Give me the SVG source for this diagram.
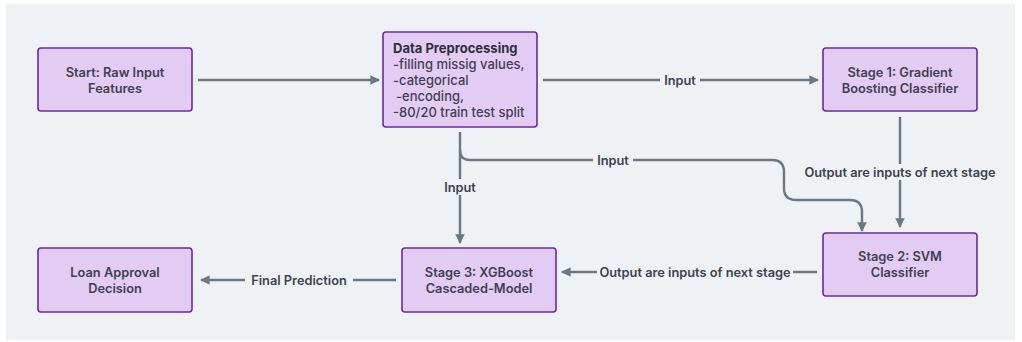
<svg xmlns="http://www.w3.org/2000/svg" width="1022" height="342" viewBox="0 0 1022 342">
<defs>
<marker id="ah" viewBox="0 0 10 10" refX="9" refY="5" markerWidth="4" markerHeight="4" orient="auto" markerUnits="strokeWidth">
<path d="M0,0 L10,5 L0,10 z" fill="#6b7883"/>
</marker>
<style>
.node rect{fill:#e4cbf3;stroke:#6c2b94;stroke-width:1.6}
.nt{font-family:Inter,"Noto Sans","Liberation Sans",sans-serif;font-size:12.8px;font-weight:600;fill:#3d4150;text-anchor:middle;dominant-baseline:central}
.dt{font-family:Inter,"Noto Sans","Liberation Sans",sans-serif;font-size:13px;font-weight:500;fill:#3d4150;dominant-baseline:central}
.dh{font-weight:700;fill:#2c2f3a}
.edge{fill:none;stroke:#6b7883;stroke-width:2.4;marker-end:url(#ah)}
.lbl{font-family:Inter,"Noto Sans","Liberation Sans",sans-serif;font-size:12.8px;font-weight:600;fill:#3b4350;text-anchor:middle;dominant-baseline:central}
.lb{fill:#eff2f5}
</style>
</defs>
<rect x="0" y="0" width="1022" height="342" fill="#ffffff"/>
<rect x="6" y="4" width="1009" height="336" fill="#eff2f5"/>
<g id="connectors">
<path class="edge" d="M198,80 H379"/>
<path class="edge" d="M543,80 H818"/>
<path class="edge" d="M460,132 V243"/>
<path class="edge" d="M460,150 Q460,160 470,160 H772 Q784,160 784,172 V188 Q784,200 796,200 H850 Q862,200 862,212 V231"/>
<path class="edge" d="M900,117 V227"/>
<path class="edge" d="M817,272 H562"/>
<path class="edge" d="M396,280 H201"/>
<rect class="lb" x="660" y="72" width="40" height="16"/>
<text class="lbl" x="680" y="80">Input</text>
<rect class="lb" x="593" y="152" width="40" height="16"/>
<text class="lbl" x="613" y="160">Input</text>
<rect class="lb" x="440" y="179" width="40" height="16"/>
<text class="lbl" x="460" y="187">Input</text>
<rect class="lb" x="802" y="164" width="196" height="16"/>
<text class="lbl" x="900" y="172">Output are inputs of next stage</text>
<rect class="lb" x="597" y="264" width="196" height="16"/>
<text class="lbl" x="695" y="272">Output are inputs of next stage</text>
<rect class="lb" x="245" y="272" width="108" height="16"/>
<text class="lbl" x="299" y="280">Final Prediction</text>
</g>
<g id="start" class="node">
<rect x="38" y="48" width="154" height="63" rx="3"/>
<text class="nt" x="115" y="72">Start: Raw Input</text>
<text class="nt" x="115" y="88">Features</text>
</g>
<g id="preprocessing" class="node">
<rect x="383" y="32" width="154" height="95" rx="3"/>
<text class="dt dh" x="393" y="48">Data Preprocessing</text>
<text class="dt" x="393" y="64">-filling missig values,</text>
<text class="dt" x="393" y="80">-categorical</text>
<text class="dt" x="396" y="96">-encoding,</text>
<text class="dt" x="393" y="112">-80/20 train test split</text>
</g>
<g id="stage1" class="node">
<rect x="823" y="48" width="154" height="63" rx="3"/>
<text class="nt" x="900" y="72">Stage 1: Gradient</text>
<text class="nt" x="900" y="88">Boosting Classifier</text>
</g>
<g id="stage2" class="node">
<rect x="823" y="233" width="154" height="63" rx="3"/>
<text class="nt" x="900" y="256">Stage 2: SVM</text>
<text class="nt" x="900" y="272">Classifier</text>
</g>
<g id="stage3" class="node">
<rect x="402" y="248" width="154" height="64" rx="3"/>
<text class="nt" x="479" y="272">Stage 3: XGBoost</text>
<text class="nt" x="479" y="288">Cascaded-Model</text>
</g>
<g id="loan" class="node">
<rect x="38" y="248" width="154" height="64" rx="3"/>
<text class="nt" x="115" y="272">Loan Approval</text>
<text class="nt" x="115" y="288">Decision</text>
</g>
</svg>
